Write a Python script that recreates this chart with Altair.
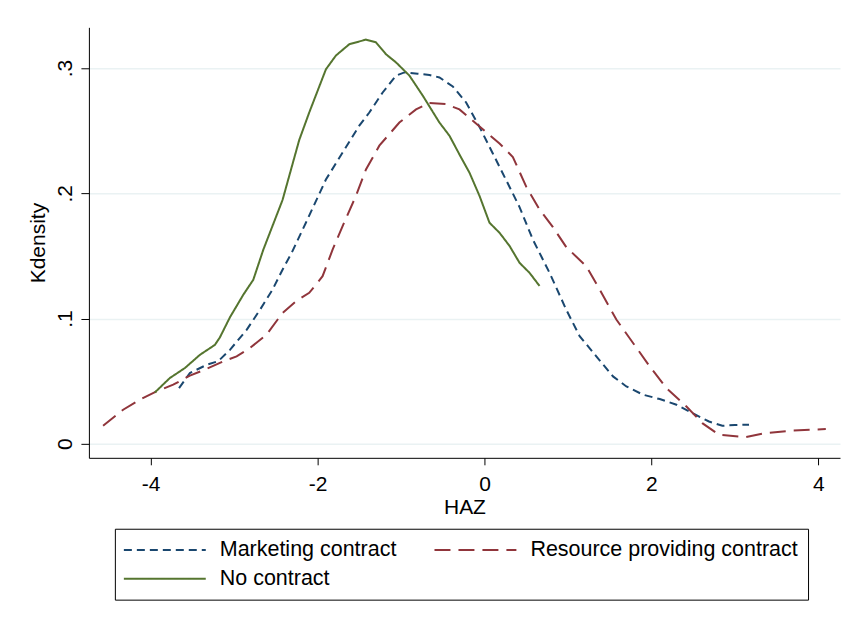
import altair as alt
import pandas as pd

series_names = ["Marketing contract", "Resource providing contract", "No contract"]
series_colors = ["#1a476f", "#90353b", "#55752f"]
series_dashes = [[8, 5], [16, 8], [1, 0]]

x_ticks = [-4, -2, 0, 2, 4]
y_ticks = [0, 0.1, 0.2, 0.3]

mk_x = [-3.66, -3.53, -3.33, -3.19, -3.05, -2.85, -2.69, -2.54, -2.42, -2.31, -2.14, -1.90,
        -1.70, -1.50, -1.38, -1.22, -1.06, -0.96, -0.80, -0.66, -0.54, -0.38, -0.22, -0.06,
        0.10, 0.26, 0.42, 0.58, 0.78, 0.98, 1.14, 1.34, 1.54, 1.70, 1.90, 2.10, 2.30, 2.49,
        2.69, 2.85, 3.00, 3.17]
mk_y = [0.0445, 0.0565, 0.063, 0.066, 0.075, 0.091, 0.107, 0.123, 0.139, 0.1525, 0.1765, 0.211,
        0.2325, 0.254, 0.2645, 0.2805, 0.294, 0.2965, 0.2955, 0.2945, 0.2925, 0.2853, 0.2725, 0.253,
        0.2318, 0.2105, 0.189, 0.163, 0.1365, 0.107, 0.086, 0.0698, 0.0538, 0.0458, 0.0392, 0.0357,
        0.0312, 0.0245, 0.0178, 0.0144, 0.015, 0.0152]

rp_x = [-4.57, -4.33, -4.13, -3.93, -3.73, -3.53, -3.33, -3.13, -2.97, -2.81, -2.61, -2.42,
        -2.26, -2.10, -1.94, -1.82, -1.70, -1.54, -1.42, -1.26, -1.02, -0.82, -0.66, -0.46,
        -0.30, -0.14, 0.18, 0.34, 0.50, 0.66, 0.82, 0.98, 1.22, 1.38, 1.58, 1.78, 1.98, 2.18,
        2.42, 2.61, 2.81, 3.13, 3.37, 3.69, 4.09]
rp_y = [0.0144, 0.0272, 0.0352, 0.0418, 0.0472, 0.0544, 0.0598, 0.0658, 0.0698, 0.0765, 0.0872, 0.1045,
        0.1138, 0.1205, 0.1338, 0.155, 0.1738, 0.198, 0.219, 0.238, 0.2565, 0.267, 0.272, 0.2712,
        0.267, 0.258, 0.2398, 0.229, 0.2053, 0.187, 0.173, 0.157, 0.1418, 0.1232, 0.0992, 0.0805,
        0.0618, 0.0445, 0.0298, 0.0165, 0.0072, 0.0054, 0.0086, 0.0106, 0.0118]

nc_x = [-3.95, -3.77, -3.59, -3.41, -3.23, -3.17, -3.05, -2.89, -2.77, -2.65, -2.42, -2.22,
        -2.10, -1.90, -1.78, -1.62, -1.42, -1.30, -1.18, -1.06, -0.90, -0.74, -0.54, -0.42,
        -0.30, -0.18, -0.06, 0.06, 0.18, 0.30, 0.42, 0.54, 0.66]
nc_y = [0.041, 0.0525, 0.0605, 0.071, 0.079, 0.085, 0.101, 0.119, 0.131, 0.155, 0.1946, 0.2425,
        0.2645, 0.299, 0.31, 0.319, 0.3227, 0.3205, 0.311, 0.3045, 0.294, 0.278, 0.2565, 0.246,
        0.231, 0.2165, 0.198, 0.1765, 0.1685, 0.158, 0.1445, 0.1365, 0.126]

rows = []
for name, xs, ys in zip(series_names, [mk_x, rp_x, nc_x], [mk_y, rp_y, nc_y]):
    for i, (a, b) in enumerate(zip(xs, ys)):
        rows.append({"series": name, "HAZ": a, "dens": b, "idx": i})
df = pd.DataFrame(rows)

FONT = "Liberation Sans"

chart = alt.Chart(df).mark_line(strokeWidth=2).encode(
    x=alt.X("HAZ:Q", title="HAZ",
            scale=alt.Scale(domain=[-4.74, 4.26], nice=False, zero=False),
            axis=alt.Axis(values=x_ticks, labelExpr="'' + datum.value", grid=False,
                          tickSize=7, labelPadding=9, titlePadding=2,
                          labelFont=FONT, titleFont=FONT, labelFontSize=21, titleFontSize=21,
                          titleFontWeight="normal", labelColor="#000000", titleColor="#000000",
                          domainColor="#000000", tickColor="#000000", domainWidth=1, tickWidth=1)),
    y=alt.Y("dens:Q", title="Kdensity",
            scale=alt.Scale(domain=[-0.0112, 0.3325], nice=False, zero=False),
            axis=alt.Axis(values=y_ticks,
                          labelExpr="datum.value == 0 ? '0' : substring(format(datum.value, '.1f'), 1)",
                          grid=True, gridColor="#EAF2F3", gridWidth=1.5,
                          labelAngle=270, labelAlign="center", labelBaseline="alphabetic",
                          tickSize=8, labelPadding=9, titlePadding=6,
                          labelFont=FONT, titleFont=FONT, labelFontSize=21, titleFontSize=21,
                          titleFontWeight="normal", labelColor="#000000", titleColor="#000000",
                          domainColor="#000000", tickColor="#000000", domainWidth=1, tickWidth=1)),
    color=alt.Color("series:N", scale=alt.Scale(domain=series_names, range=series_colors),
                    legend=alt.Legend(title=None, orient="none", legendX=26, legendY=502,
                                      direction="horizontal",
                                      columns=2, columnPadding=34, rowPadding=7,
                                      padding=10, strokeColor="#000000",
                                      symbolType="M-4.1,0H4.1", symbolSize=400,
                                      symbolStrokeWidth=2, symbolOffset=29,
                                      labelOffset=44, labelFontSize=21.5, labelFont=FONT,
                                      labelColor="#000000", labelLimit=400)),
    strokeDash=alt.StrokeDash("series:N", scale=alt.Scale(domain=series_names, range=series_dashes),
                              legend=None),
    order=alt.Order("idx:Q"),
).properties(
    width=752, height=431,
    background="white",
    autosize=alt.AutoSizeParams(type="none"),
    padding={"left": 81, "top": 19, "right": 5, "bottom": 150},
).configure_view(
    stroke=None
)

chart.save("out.html", embed_options={"renderer": "svg", "actions": False})
